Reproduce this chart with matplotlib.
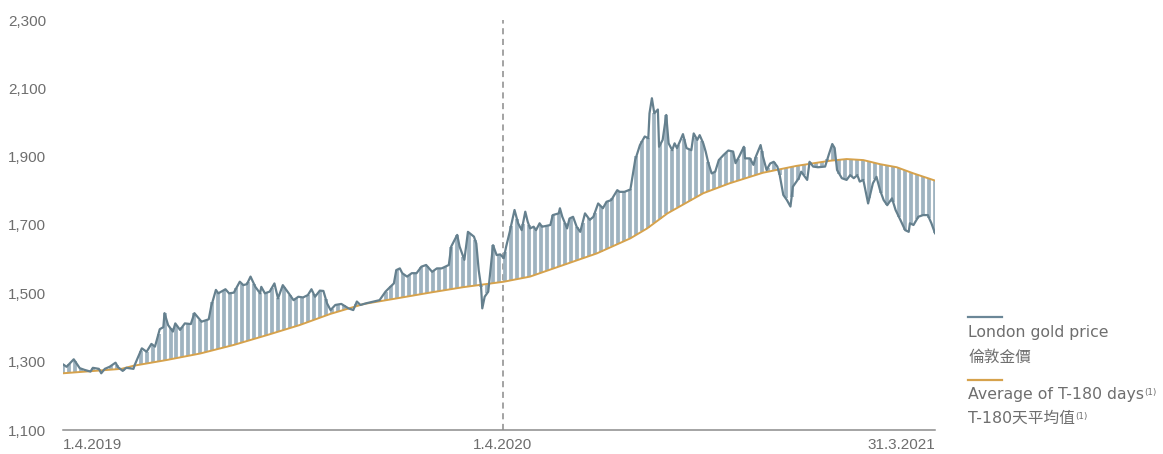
import numpy as np
import matplotlib.pyplot as plt
from matplotlib.lines import Line2D

# London gold price (days since 1.4.2019, US$/oz)
price_day = [0, 3, 9, 14, 18, 23, 25, 30, 32, 35, 39, 44, 46, 50, 53, 59, 60, 66, 70, 74,
             77, 81, 84, 85, 88, 92, 94, 98, 102, 107, 110, 116, 122, 124, 128, 130, 136, 139, 143, 148,
             151, 154, 157, 161, 165, 166, 169, 173, 177, 180, 184, 189, 193, 197, 201, 205, 208, 211, 215, 218,
             221, 224, 228, 233, 239, 243, 246, 249, 254, 260, 265, 270, 274, 277, 279, 282, 284, 288, 292, 296,
             300, 304, 309, 313, 317, 320, 323, 325, 330, 332, 336, 339, 344, 346, 348, 350, 351, 353, 356, 359,
             360, 363, 366, 369, 371, 374, 378, 381, 384, 387, 389, 391, 394, 396, 399, 401, 404, 408, 410, 415,
             416, 418, 422, 424, 427, 430, 433, 437, 441, 444, 448, 452, 455, 459, 464, 466, 470, 475, 479, 483,
             487, 490, 491, 493, 495, 498, 499, 502, 505, 507, 510, 512, 514, 517, 519, 522, 526, 528, 531, 533,
             536, 538, 540, 543, 546, 549, 553, 557, 561, 563, 566, 570, 571, 575, 578, 580, 584, 586, 589, 592,
             595, 598, 600, 603, 606, 609, 611, 616, 618, 623, 625, 628, 632, 638, 641, 644, 646, 648, 652, 656,
             659, 662, 665, 667, 670, 674, 678, 681, 684, 687, 690, 694, 697, 701, 705, 708, 709, 712, 716, 720,
             724, 727, 730]
price = [1292, 1285, 1307, 1281, 1276, 1271, 1282, 1279, 1266, 1279, 1285, 1297, 1284, 1273, 1282, 1279, 1290, 1339, 1329, 1352,
         1344, 1395, 1401, 1442, 1407, 1388, 1412, 1393, 1412, 1410, 1442, 1417, 1424, 1461, 1510, 1500, 1512, 1500, 1502, 1534,
         1524, 1527, 1549, 1519, 1500, 1519, 1500, 1505, 1529, 1485, 1524, 1500, 1480, 1490, 1488, 1495, 1512, 1490, 1508, 1507,
         1471, 1451, 1466, 1469, 1456, 1451, 1476, 1466, 1471, 1476, 1480, 1505, 1519, 1529, 1568, 1573, 1559, 1549, 1559, 1559,
         1578, 1583, 1563, 1573, 1573, 1578, 1583, 1637, 1671, 1637, 1598, 1680, 1666, 1646, 1568, 1519, 1456, 1490, 1505, 1607,
         1641, 1612, 1614, 1603, 1637, 1680, 1744, 1705, 1685, 1739, 1710, 1690, 1695, 1685, 1705, 1695, 1697, 1700, 1729, 1734,
         1749, 1724, 1690, 1719, 1724, 1695, 1680, 1734, 1715, 1724, 1763, 1749, 1768, 1773, 1802, 1797, 1797, 1804, 1890, 1934,
         1959, 1954, 2027, 2071, 2027, 2038, 1929, 1949, 2022, 1939, 1919, 1939, 1925, 1949, 1966, 1925, 1919, 1968, 1949, 1963,
         1939, 1915, 1885, 1851, 1856, 1890, 1905, 1918, 1915, 1881, 1900, 1929, 1895, 1895, 1876, 1900, 1934, 1900, 1861, 1880,
         1885, 1871, 1846, 1788, 1773, 1754, 1812, 1837, 1856, 1832, 1885, 1871, 1869, 1871, 1905, 1937, 1925, 1861, 1837, 1832,
         1846, 1837, 1846, 1827, 1832, 1763, 1822, 1841, 1802, 1773, 1758, 1778, 1744, 1715, 1685, 1680, 1705, 1700, 1724, 1729,
         1729, 1705, 1676]

# Average of T-180 days
avg_day = [0, 49, 59, 87, 115, 143, 171, 198, 224, 252, 279, 307, 335, 369, 391, 419, 447, 475, 489, 506,
           536, 558, 586, 614, 642, 656, 670, 684, 698, 712, 730]
avg = [1266, 1279, 1288, 1305, 1324, 1349, 1378, 1407, 1440, 1469, 1485, 1502, 1518, 1534, 1549, 1583, 1617, 1661, 1690, 1734,
       1793, 1822, 1853, 1873, 1888, 1893, 1890, 1878, 1869, 1851, 1830]

yticks = [1100, 1300, 1500, 1700, 1900, 2100, 2300]
xtick_days = [0, 368, 730]
xtick_labels = ['1.4.2019', '1.4.2020', '31.3.2021']

price_col = '#65808e'
stripe_col = '#9fb3c0'
avg_col = '#d6a24c'
text_col = '#6e6e6e'

fig = plt.figure(figsize=(11.63, 4.54), dpi=100)
ax = fig.add_axes([63 / 1163, 24 / 454, 872 / 1163, 410 / 454])

# striped fill between price and average
sd = np.arange(0, 731, 5)
p_s = np.interp(sd, price_day, price)
a_s = np.interp(sd, avg_day, avg)
ax.vlines(sd, np.minimum(p_s, a_s), np.maximum(p_s, a_s), color=stripe_col, lw=2.7, zorder=1)

ax.plot(avg_day, avg, color=avg_col, lw=1.4, zorder=2)
ax.plot(price_day, price, color=price_col, lw=1.6, zorder=3)

ax.axvline(368, color='#8a8a8a', lw=1.1, ls=(0, (4, 3)), zorder=0)

ax.set_xlim(0, 730)
ax.set_ylim(1100, 2300)
ax.set_yticks(yticks)
ax.set_yticklabels([f'{v:,}' for v in yticks])
ax.set_xticks(xtick_days)
ax.set_xticklabels(xtick_labels)
xl = ax.get_xticklabels()
xl[0].set_ha('left')
xl[2].set_ha('right')

for s in ['top', 'right', 'left']:
    ax.spines[s].set_visible(False)
ax.spines['bottom'].set_color('#8c8c8c')
ax.spines['bottom'].set_linewidth(1.1)
ax.tick_params(length=0, colors=text_col, labelsize=11)
ax.tick_params(axis='y', pad=12)
ax.tick_params(axis='x', pad=6)
for t in ax.get_xticklabels() + ax.get_yticklabels():
    t.set_fontfamily('Liberation Sans')

# legend
fam = ['DejaVu Sans', 'Noto Sans CJK TC']
fx = lambda px: px / 1163
fy = lambda py: 1 - py / 454
fig.add_artist(Line2D([fx(968), fx(1002)], [fy(317)] * 2, color='#6b8797', lw=1.6))
fig.add_artist(Line2D([fx(968), fx(1002)], [fy(380)] * 2, color=avg_col, lw=1.6))
kw = dict(color=text_col, fontsize=11.3, family=fam, va='center', ha='left')
fig.text(fx(968), fy(333), 'London gold price', **kw)
fig.text(fx(968), fy(357), '倫敦金價', **kw)
t1 = fig.text(fx(968), fy(394), 'Average of T-180 days', **kw)
t2 = fig.text(fx(968), fy(418), 'T-180天平均值', **kw)
for t in (t1, t2):
    ax.annotate('(1)', xy=(1, 0.9), xycoords=t, xytext=(0.5, 0), textcoords='offset points',
                fontsize=6.3, color=text_col, va='top', ha='left', family=fam)

fig.savefig('out.png', dpi=100)
